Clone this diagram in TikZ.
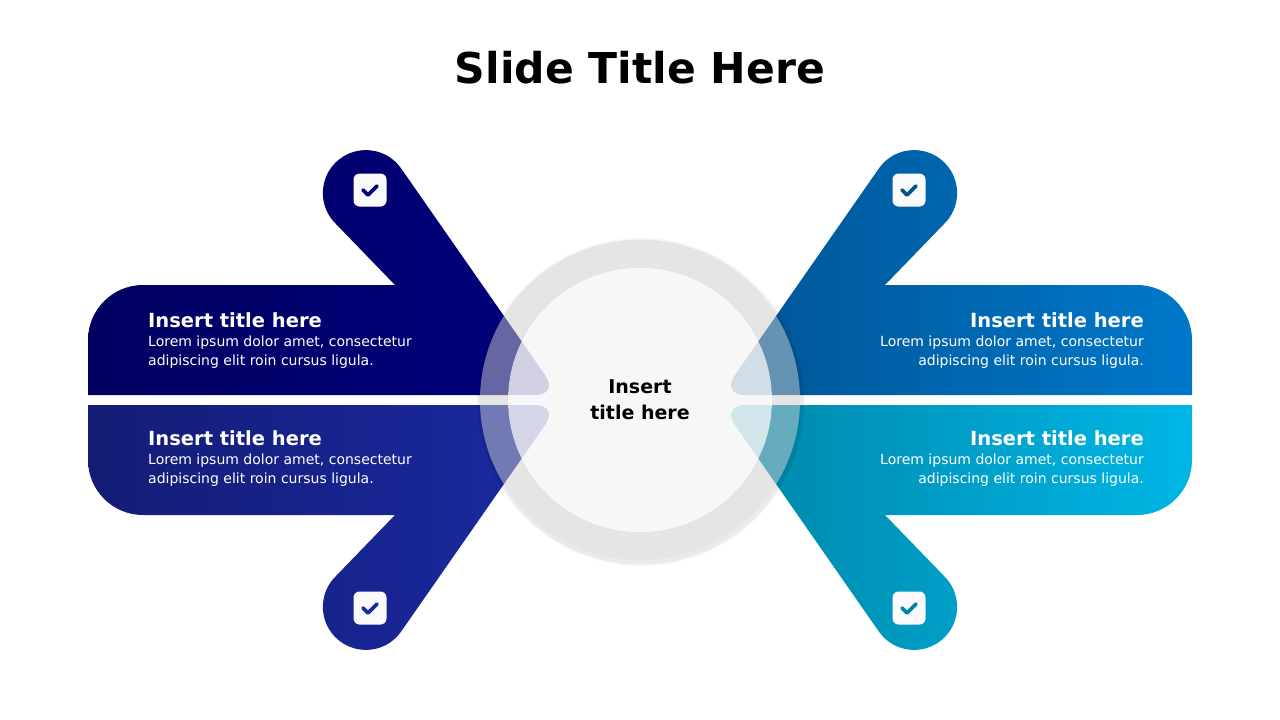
\documentclass[tikz,border=0pt]{standalone}
\usepackage{fontspec}
\setmainfont{DejaVu Sans}
\begin{document}
\begin{tikzpicture}[x=1pt,y=-1pt,
  boxtitle/.style={font=\fontsize{19.5}{22}\selectfont\bfseries, text=white, inner sep=0},
  boxbody/.style={font=\fontsize{14}{19}\selectfont, text=white, inner sep=0},
  chk/.style={fill=white!96!gray, rounded corners=6pt, minimum size=33pt, inner sep=0},
  chkmark/.style={line width=3.8pt, line cap=round, line join=round}]
\useasboundingbox (0,0) rectangle (1280,720);
\fill[white] (0,0) rectangle (1280,720);
\definecolor{tlA}{HTML}{000060}\definecolor{tlB}{HTML}{00007E}
\definecolor{blA}{HTML}{141C74}\definecolor{blB}{HTML}{1A2AA2}
\definecolor{trA}{HTML}{005494}\definecolor{trB}{HTML}{0078CA}
\definecolor{brA}{HTML}{0086A8}\definecolor{brB}{HTML}{00B6E6}
\newcommand{\armpath}{(88,395) -- (88,340) arc[start angle=180,end angle=270,radius=55] -- (395,285) -- (336,224) arc[start angle=134,end angle=324.5,radius=43] [rounded corners=24pt]-- (559,395) [sharp corners]-- cycle}
\shade[left color=tlA, right color=tlB] \armpath;
\begin{scope}[shift={(0,800)},yscale=-1]
\shade[left color=blA, right color=blB] \armpath;
\end{scope}
\begin{scope}[shift={(1280,0)},xscale=-1]
\shade[left color=trA, right color=trB] \armpath;
\end{scope}
\begin{scope}[shift={(1280,800)},xscale=-1,yscale=-1]
\shade[left color=brA, right color=brB] \armpath;
\end{scope}
% shadow outside only
\foreach \r/\o in {164/0.03,162.5/0.05}{\fill[even odd rule,black,opacity=\o] (641,402) circle[radius=\r] (640,400) circle[radius=160];}
\fill[even odd rule, fill={rgb,255:red,204;green,204;blue,204}, opacity=0.5] (640,400) circle[radius=160] (640,400) circle[radius=132];
\fill[fill={rgb,255:red,246;green,246;blue,246}, opacity=0.85] (640,400) circle[radius=132];
\node[font=\fontsize{19}{26}\selectfont\bfseries, align=center] (ctr) at (640,400) {Insert\\title here};
% checks
\node[chk] (c1) at (370,190) {};
\node[chk] (c2) at (370,608) {};
\node[chk] (c3) at (909,190) {};
\node[chk] (c4) at (909,608) {};
\foreach \n/\c in {c1/tlB,c2/blB,c3/trA,c4/brA}{
  \draw[chkmark,\c] ([shift={(-7,0)}]\n.center) -- ([shift={(-2,5)}]\n.center) -- ([shift={(7,-4)}]\n.center);}
% title
\node[font=\fontsize{42.5}{50}\selectfont\bfseries] (title) at (640,68) {Slide Title Here};
% texts
\node[boxtitle, anchor=base west] (t1) at (148,327) {Insert title here};
\node[boxbody, anchor=north west, align=left] (b1) at (148,336) {Lorem ipsum dolor amet, consectetur\\adipiscing elit roin cursus ligula.};
\node[boxtitle, anchor=base west] (t2) at (148,445) {Insert title here};
\node[boxbody, anchor=north west, align=left] (b2) at (148,454) {Lorem ipsum dolor amet, consectetur\\adipiscing elit roin cursus ligula.};
\node[boxtitle, anchor=base east] (t3) at (1144,327) {Insert title here};
\node[boxbody, anchor=north east, align=right] (b3) at (1144,336) {Lorem ipsum dolor amet, consectetur\\adipiscing elit roin cursus ligula.};
\node[boxtitle, anchor=base east] (t4) at (1144,445) {Insert title here};
\node[boxbody, anchor=north east, align=right] (b4) at (1144,454) {Lorem ipsum dolor amet, consectetur\\adipiscing elit roin cursus ligula.};
\end{tikzpicture}
\end{document}
